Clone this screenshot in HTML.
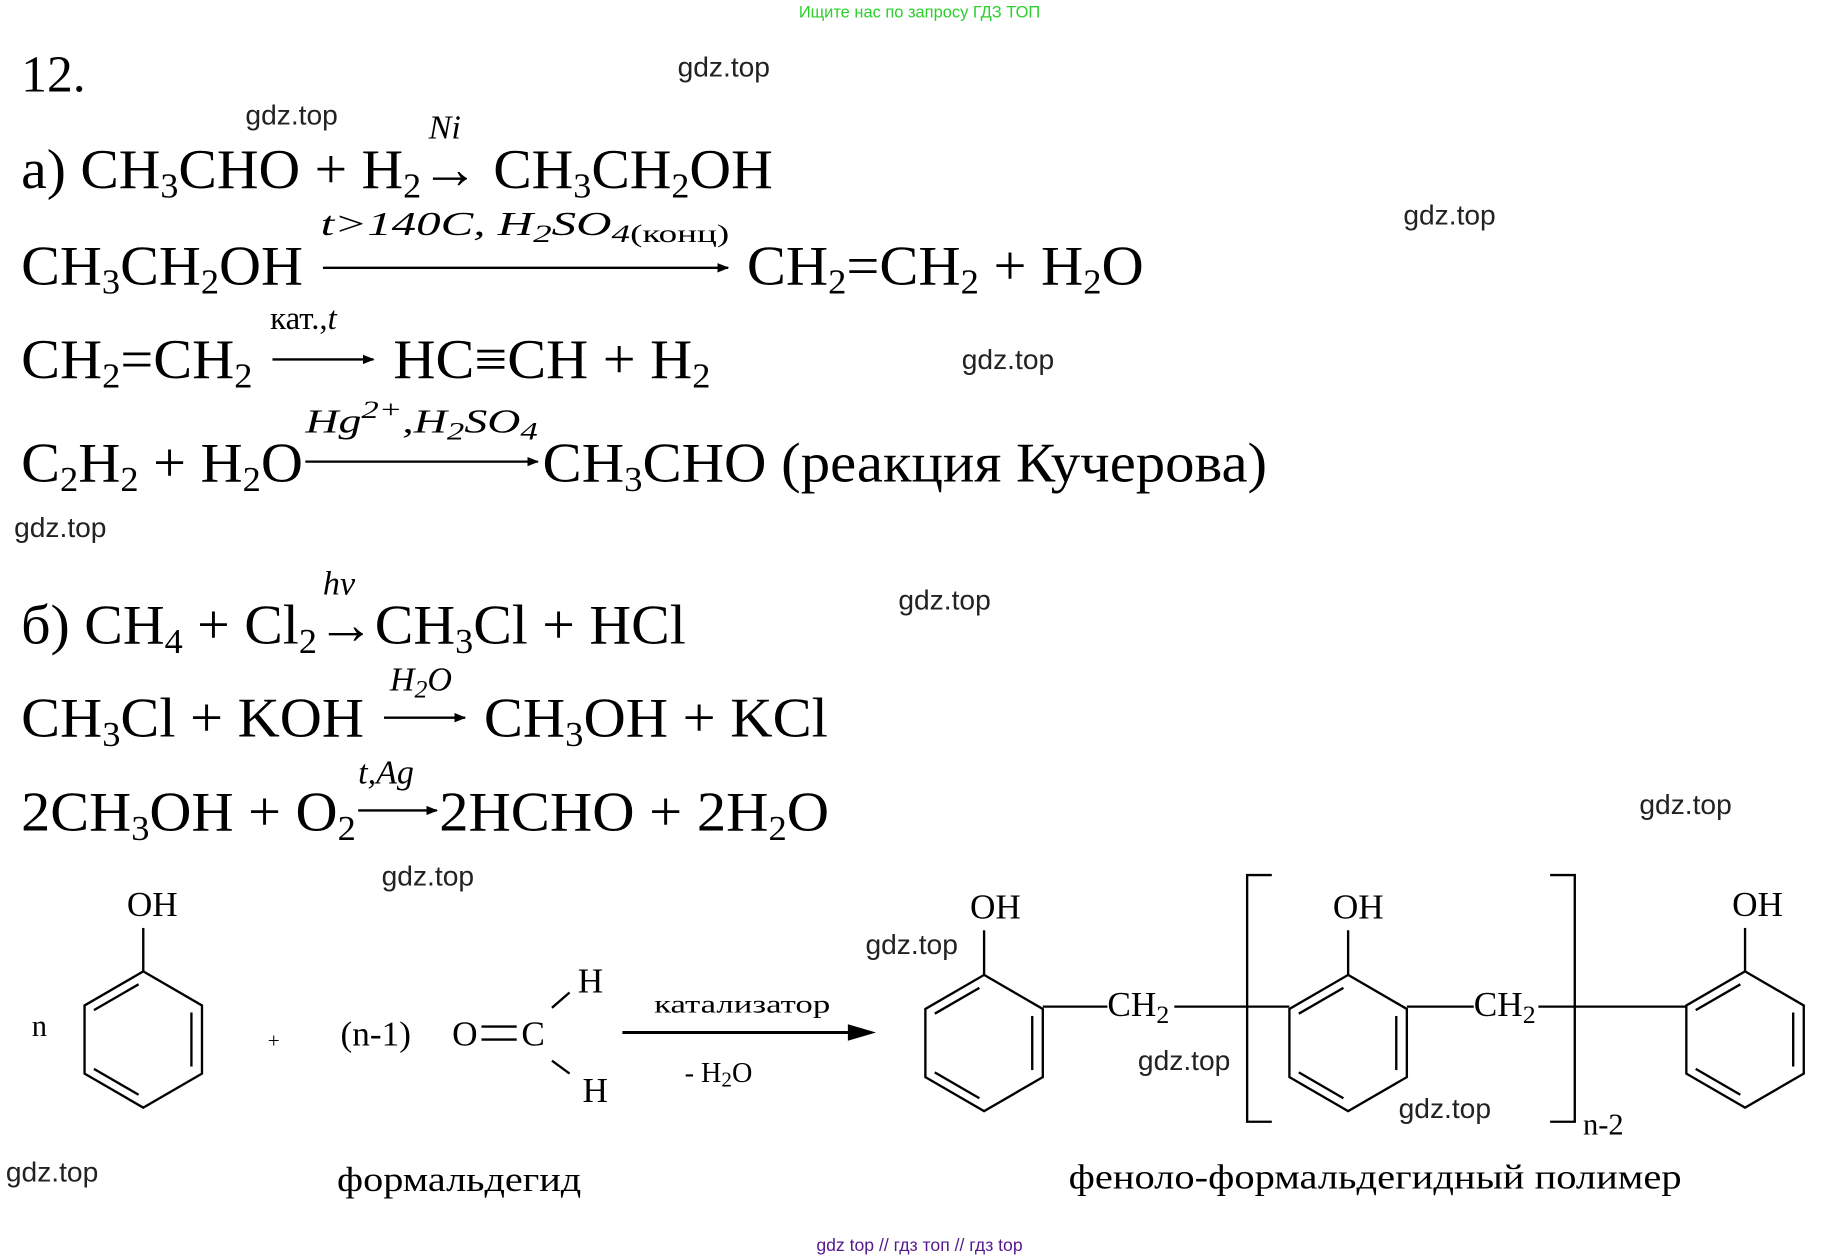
<!DOCTYPE html>
<html><head><meta charset="utf-8"><style>
html,body{margin:0;padding:0;background:#fff;}
svg{display:block;}
.f{font-family:"Liberation Serif",serif;font-size:48px;fill:#000;}
.l{font-family:"Liberation Serif",serif;font-style:italic;font-size:29px;fill:#000;}
.w{font-family:"Liberation Sans",sans-serif;font-size:24px;fill:#222;}
.c{font-family:"Liberation Serif",serif;font-size:30px;fill:#000;}
.s{font-size:30px;}
</style></head><body>
<svg width="1839" height="1258" viewBox="0 0 1566 1071" preserveAspectRatio="none" xmlns="http://www.w3.org/2000/svg">
<defs>
<marker id="ah" markerWidth="10" markerHeight="8" refX="9" refY="4" orient="auto" markerUnits="userSpaceOnUse"><path d="M0,0 L10,4 L0,8 z" fill="#000"/></marker>
</defs>
<text x="783" y="15" text-anchor="middle" font-family="Liberation Sans,sans-serif" font-size="14" fill="#2bd02b">Ищите нас по запросу ГДЗ ТОП</text>
<text x="18" y="78" font-family="Liberation Serif,serif" font-size="44">12.</text>

<g class="w">
<text x="577" y="65">gdz.top</text><text x="209" y="106">gdz.top</text><text x="1195" y="191">gdz.top</text>
<text x="819" y="314">gdz.top</text><text x="12" y="457">gdz.top</text><text x="765" y="519">gdz.top</text>
<text x="1396" y="693">gdz.top</text><text x="325" y="754">gdz.top</text><text x="737" y="812">gdz.top</text>
<text x="969" y="911">gdz.top</text><text x="1191" y="952">gdz.top</text><text x="5" y="1006">gdz.top</text>
</g>

<!-- а -->
<text class="l" x="365" y="118">Ni</text>
<text class="f" x="18" y="160" textLength="640" lengthAdjust="spacingAndGlyphs">а) CH<tspan class="s" dy="8">3</tspan><tspan dy="-8">CHO + H</tspan><tspan class="s" dy="8">2</tspan><tspan dy="-8">→ CH</tspan><tspan class="s" dy="8">3</tspan><tspan dy="-8">CH</tspan><tspan class="s" dy="8">2</tspan><tspan dy="-8">OH</tspan></text>

<text class="f" x="18" y="242" textLength="240" lengthAdjust="spacingAndGlyphs">CH<tspan class="s" dy="8">3</tspan><tspan dy="-8">CH</tspan><tspan class="s" dy="8">2</tspan><tspan dy="-8">OH</tspan></text>
<text class="l" x="273" y="200" textLength="348" lengthAdjust="spacingAndGlyphs">t&gt;140C,  H<tspan font-size="22" dy="6">2</tspan><tspan dy="-6">SO</tspan><tspan font-size="22" dy="6">4</tspan><tspan font-size="22" font-style="normal">(конц)</tspan></text>
<line x1="275" y1="228" x2="620" y2="228" stroke="#000" stroke-width="2" marker-end="url(#ah)"/>
<text class="f" x="636" y="242" textLength="338" lengthAdjust="spacingAndGlyphs">CH<tspan class="s" dy="8">2</tspan><tspan dy="-8">=CH</tspan><tspan class="s" dy="8">2</tspan><tspan dy="-8"> + H</tspan><tspan class="s" dy="8">2</tspan><tspan dy="-8">O</tspan></text>

<text class="f" x="18" y="322" textLength="197" lengthAdjust="spacingAndGlyphs">CH<tspan class="s" dy="8">2</tspan><tspan dy="-8">=CH</tspan><tspan class="s" dy="8">2</tspan></text>
<text x="230" y="280" font-family="Liberation Serif,serif" font-size="28">кат.,<tspan font-style="italic">t</tspan></text>
<line x1="232" y1="306" x2="318" y2="306" stroke="#000" stroke-width="2" marker-end="url(#ah)"/>
<text class="f" x="335" y="322" textLength="270" lengthAdjust="spacingAndGlyphs">HC≡CH + H<tspan class="s" dy="8">2</tspan></text>

<text class="f" x="18" y="410" textLength="240" lengthAdjust="spacingAndGlyphs">C<tspan class="s" dy="8">2</tspan><tspan dy="-8">H</tspan><tspan class="s" dy="8">2</tspan><tspan dy="-8"> + H</tspan><tspan class="s" dy="8">2</tspan><tspan dy="-8">O</tspan></text>
<text class="l" x="260" y="368" textLength="198" lengthAdjust="spacingAndGlyphs">Hg<tspan font-size="22" dy="-12">2+</tspan><tspan dy="12">,H</tspan><tspan font-size="22" dy="6">2</tspan><tspan dy="-6">SO</tspan><tspan font-size="22" dy="6">4</tspan></text>
<line x1="260" y1="393" x2="458" y2="393" stroke="#000" stroke-width="2" marker-end="url(#ah)"/>
<text class="f" x="462" y="410" textLength="617" lengthAdjust="spacingAndGlyphs">CH<tspan class="s" dy="8">3</tspan><tspan dy="-8">CHO (реакция Кучерова)</tspan></text>

<!-- б -->
<text class="l" x="275" y="506">hν</text>
<text class="f" x="18" y="548" textLength="566" lengthAdjust="spacingAndGlyphs">б) CH<tspan class="s" dy="8">4</tspan><tspan dy="-8"> + Cl</tspan><tspan class="s" dy="8">2</tspan><tspan dy="-8">→CH</tspan><tspan class="s" dy="8">3</tspan><tspan dy="-8">Cl + HCl</tspan></text>

<text class="f" x="18" y="627" textLength="292" lengthAdjust="spacingAndGlyphs">CH<tspan class="s" dy="8">3</tspan><tspan dy="-8">Cl + KOH</tspan></text>
<text class="l" x="332" y="588">H<tspan font-size="22" dy="6">2</tspan><tspan dy="-6">O</tspan></text>
<line x1="327" y1="611" x2="396" y2="611" stroke="#000" stroke-width="2" marker-end="url(#ah)"/>
<text class="f" x="412" y="627" textLength="293" lengthAdjust="spacingAndGlyphs">CH<tspan class="s" dy="8">3</tspan><tspan dy="-8">OH + KCl</tspan></text>

<text class="f" x="18" y="707" textLength="285" lengthAdjust="spacingAndGlyphs">2CH<tspan class="s" dy="8">3</tspan><tspan dy="-8">OH + O</tspan><tspan class="s" dy="8">2</tspan></text>
<text class="l" x="305" y="667">t,Ag</text>
<line x1="305" y1="690" x2="372" y2="690" stroke="#000" stroke-width="2" marker-end="url(#ah)"/>
<text class="f" x="374" y="707" textLength="332" lengthAdjust="spacingAndGlyphs">2HCHO + 2H<tspan class="s" dy="8">2</tspan><tspan dy="-8">O</tspan></text>

<!-- structures -->
<g stroke="#000" stroke-width="2" fill="none">
<polygon points="122,827 172,856 172,914 122,943 72,914 72,856"/>
<line x1="80" y1="860" x2="118" y2="838"/><line x1="163" y1="862" x2="163" y2="908"/><line x1="80" y1="910" x2="118" y2="932"/>
<line x1="122" y1="790" x2="122" y2="827"/>
<polygon points="838,830 888,859 888,917 838,946 788,917 788,859"/>
<line x1="796" y1="863" x2="834" y2="841"/><line x1="879" y1="865" x2="879" y2="911"/><line x1="796" y1="913" x2="834" y2="935"/>
<line x1="838" y1="792" x2="838" y2="830"/>
<polygon points="1148,830 1198,859 1198,917 1148,946 1098,917 1098,859"/>
<line x1="1106" y1="863" x2="1144" y2="841"/><line x1="1189" y1="865" x2="1189" y2="911"/><line x1="1106" y1="913" x2="1144" y2="935"/>
<line x1="1148" y1="792" x2="1148" y2="830"/>
<polygon points="1486,827 1536,856 1536,914 1486,943 1436,914 1436,856"/>
<line x1="1444" y1="860" x2="1482" y2="838"/><line x1="1527" y1="862" x2="1527" y2="908"/><line x1="1444" y1="910" x2="1482" y2="932"/>
<line x1="1486" y1="790" x2="1486" y2="827"/>
<line x1="888" y1="857" x2="943" y2="857"/><line x1="1000" y1="857" x2="1098" y2="857"/>
<line x1="1198" y1="857" x2="1255" y2="857"/><line x1="1310" y1="857" x2="1436" y2="857"/>
<polyline points="1083,745 1062,745 1062,955 1083,955"/>
<polyline points="1320,745 1341,745 1341,955 1320,955"/>
<line x1="470" y1="858" x2="485" y2="845"/><line x1="470" y1="903" x2="485" y2="914"/>
<line x1="410" y1="874" x2="440" y2="874"/><line x1="410" y1="885" x2="440" y2="885"/>
</g>
<line x1="530" y1="879" x2="735" y2="879" stroke="#000" stroke-width="2.5"/>
<path d="M722,872 L746,879 L722,886 z" fill="#000"/>
<g class="c">
<text x="108" y="780">OH</text><text x="826" y="782">OH</text><text x="1135" y="782">OH</text><text x="1475" y="780">OH</text>
<text x="27" y="882" font-size="26">n</text>
<text x="228" y="892" font-size="18">+</text>
<text x="290" y="890">(n-1)</text>
<text x="385" y="890">O</text>
<text x="444" y="890">C</text>
<text x="492" y="845">H</text><text x="496" y="938">H</text>
<text x="943" y="865">CH<tspan font-size="22" dy="6">2</tspan></text>
<text x="1255" y="865">CH<tspan font-size="22" dy="6">2</tspan></text>
<text x="1348" y="966" font-size="26">n-2</text>
<text x="557" y="862" font-size="22" textLength="150" lengthAdjust="spacingAndGlyphs">катализатор</text>
<text x="583" y="921" font-size="24">- H<tspan font-size="18" dy="4">2</tspan><tspan dy="-4">O</tspan></text>
<text x="287" y="1014" textLength="208" lengthAdjust="spacingAndGlyphs">формальдегид</text>
<text x="910" y="1012" textLength="522" lengthAdjust="spacingAndGlyphs">феноло-формальдегидный полимер</text>
</g>
<text x="783" y="1065" text-anchor="middle" font-family="Liberation Sans,sans-serif" font-size="15" fill="#551a8b">gdz top  //  гдз топ  //  гдз top</text>
</svg>
</body></html>
